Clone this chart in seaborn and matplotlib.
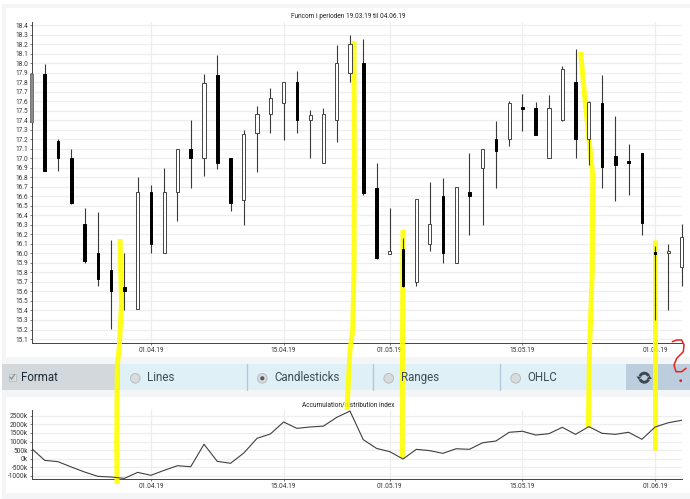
import numpy as np
import matplotlib
matplotlib.use("Agg")
import matplotlib.pyplot as plt
from matplotlib.patches import Rectangle, Circle, Arc, Polygon
import pandas as pd
import seaborn as sns

# candle values, one entry per trading day
low = [17.38, 16.87, 16.87, 16.52, 15.90, 15.66, 15.21, 15.40, 15.42, 16.00,
       16.00, 16.34, 16.69, 16.81, 16.89, 16.45, 16.30, 16.86, 17.26, 17.19,
       17.26, 17.00, 16.95, 17.17, 17.80, 16.61, 15.94, 16.00, 15.65, 15.66,
       16.02, 15.90, 15.90, 16.19, 16.30, 16.69, 17.13, 17.29, 17.24, 17.00,
       17.39, 17.00, 16.93, 16.69, 16.55, 16.61, 16.19, 15.30, 15.40, 15.66]
high = [17.90, 17.99, 17.20, 17.10, 16.48, 16.44, 16.14, 16.00, 16.80, 16.72,
        16.90, 17.10, 17.40, 17.89, 18.09, 17.00, 17.30, 17.55, 17.74, 17.80,
        17.92, 17.51, 17.53, 18.19, 18.29, 18.25, 16.95, 16.48, 16.16, 16.57,
        16.75, 16.79, 16.70, 17.05, 17.10, 17.39, 17.60, 17.67, 17.59, 17.66,
        17.97, 18.15, 17.60, 17.87, 17.44, 17.15, 17.05, 16.08, 16.10, 16.31]
body_low = [17.38, 16.87, 17.00, 16.53, 15.92, 15.73, 15.60, 15.60, 15.42, 16.10,
            16.00, 16.65, 17.00, 17.00, 16.95, 16.53, 16.56, 17.27, 17.46, 17.58,
            17.40, 17.40, 16.95, 17.40, 17.90, 16.63, 15.95, 15.99, 15.66, 15.70,
            16.10, 16.00, 15.90, 16.60, 16.90, 17.08, 17.20, 17.52, 17.24, 17.00,
            17.40, 17.20, 17.20, 16.91, 16.93, 16.95, 16.32, 15.99, 16.00, 15.86]
body_high = [17.89, 17.89, 17.18, 17.00, 16.31, 16.00, 15.83, 15.65, 16.65, 16.65,
             16.65, 17.10, 17.10, 17.79, 17.87, 17.00, 17.25, 17.47, 17.63, 17.80,
             17.80, 17.45, 17.47, 18.00, 18.20, 18.00, 16.69, 16.02, 16.05, 16.57,
             16.31, 16.60, 16.70, 16.64, 17.10, 17.20, 17.58, 17.54, 17.53, 17.53,
             17.94, 17.80, 17.59, 17.58, 17.02, 16.97, 17.05, 16.01, 16.03, 16.17]
falling = [0, 1, 1, 1, 1, 1, 1, 1, 0, 1,
           0, 0, 1, 0, 1, 1, 0, 0, 0, 0,
           1, 0, 0, 0, 0, 1, 1, 0, 1, 0,
           0, 1, 0, 1, 0, 1, 0, 1, 1, 0,
           0, 1, 0, 1, 1, 1, 1, 1, 0, 0]

# accumulation/distribution index, in thousands
ad_index = [600, -100, -175, -486, -780, -1030, -1070, -1150, -800, -970,
            -680, -410, -470, 840, -155, -270, 330, 1190, 1440, 2140,
            1770, 1850, 1900, 2410, 2780, 1110, 600, 410, -20, 545,
            470, 310, 580, 545, 930, 1030, 1540, 1600, 1380, 1460,
            1830, 1420, 1870, 1480, 1420, 1540, 1130, 1850, 2100, 2240]

date_ticks = [9, 19, 27, 37, 47]
date_labels = ["01.04.19", "15.04.19", "01.05.19", "15.05.19", "01.06.19"]
price_ticks = [round(15.1 + 0.1 * i, 1) for i in range(34)]
ad_ticks = [-1000, -500, 0, 500, 1000, 1500, 2000, 2500]
ad_labels = [f"{v}k" for v in ad_ticks]

main_title = "Funcom i perioden 19.03.19 til 04.06.19"
lower_title = "Accumulation/distribution index"
format_label = "Format"
chart_types = ["Lines", "Candlesticks", "Ranges", "OHLC"]

# hand drawn marks on top of the screenshot, in picture pixels
yellow_strokes = [
    [(120, 239), (121.5, 303), (119.3, 347), (117.3, 365), (116.7, 445), (117, 484)],
    [(354, 41), (354.3, 165), (354, 270), (352.7, 330), (350, 350), (347, 410)],
    [(403, 230), (402.7, 287), (402.5, 350), (402.3, 458)],
    [(580.7, 52), (585, 100), (592.7, 175), (592.3, 270), (589.5, 350), (588.3, 428)],
    [(655, 240), (655, 350), (655, 450)],
]
red_curve = [(672.3, 341.7), (676.7, 340), (681.7, 340), (684, 345), (683.3, 351.7), (676.7, 358.3),
             (674, 365), (676, 371.7), (681.7, 371.7), (686, 368.3)]

W, H = 690, 499
sns.set_style("white")
plt.rcParams["font.family"] = ["Roboto", "DejaVu Sans"]

fig = plt.figure(figsize=(W / 100, H / 100), dpi=100, facecolor="white")


def px_axes(left, top, right, bottom, z):
    a = fig.add_axes([left / W, 1 - bottom / H, (right - left) / W, (bottom - top) / H], zorder=z)
    a.patch.set_alpha(0)
    return a


def pixel_layer(z):
    a = fig.add_axes([0, 0, 1, 1], zorder=z)
    a.set_xlim(0, W)
    a.set_ylim(H, 0)
    a.axis("off")
    return a


# page furniture: panels and buttons
bg = pixel_layer(0)
bg.add_patch(Rectangle((2, 4), W, H, color="#f3f5f6", lw=0))
bg.add_patch(Rectangle((6, 8), W, 349, color="white", lw=0))
bg.add_patch(Rectangle((6, 397), W, 96, color="white", lw=0))
bg.add_patch(Rectangle((2, 364), 118, 26, color="#d3d8dc", lw=0))
bg.add_patch(Rectangle((120, 364), 506, 26, color="#dff0f6", lw=0))
bg.add_patch(Rectangle((626, 364), 64, 26, color="#bccddd", lw=0))
for x in [246.7, 372.7, 499.7]:
    bg.plot([x, x], [364, 390], color="#b2c8de", lw=1)

# highlighter sits over the grid but under the candles and button text
top = pixel_layer(2)
for stroke in yellow_strokes:
    xs, ys = zip(*stroke)
    top.plot(xs, ys, color="#ffff00", lw=3.6, alpha=0.9, solid_capstyle="butt", zorder=3)

top.add_patch(Rectangle((8.5, 373.5), 7, 7, fc="#dcdfe1", ec="#b8bcbf", lw=0.6, zorder=4))
top.plot([10, 11.7, 14.5], [377, 379.2, 374.5], color="#8f9497", lw=1, zorder=5)
top.text(20.5, 377.5, format_label, fontsize=8.3, va="center", color="#1d2a33", zorder=5)

for name, cx in zip(chart_types, [135.3, 262.3, 388.7, 515.7]):
    top.add_patch(Circle((cx, 378.3), 4.8, fc="#d9dcdd", ec="#b9bdbf", lw=0.7, zorder=4))
    if name == "Candlesticks":
        top.add_patch(Circle((cx, 378.3), 2.1, fc="#555b60", lw=0, zorder=5))
    top.text(cx + 12, 377.8, name, fontsize=8.3, va="center", color="#3d4b55", zorder=5)

# refresh icon
top.add_patch(Arc((644.3, 377.7), 9, 9, theta1=200, theta2=340, color="#3c4650", lw=2.1, zorder=5))
top.add_patch(Arc((644.3, 377.7), 9, 9, theta1=20, theta2=160, color="#3c4650", lw=2.1, zorder=5))
top.add_patch(Polygon([(647, 379), (652, 379), (649.5, 375.5)], color="#3c4650", lw=0, zorder=5))
top.add_patch(Polygon([(636.5, 376.5), (641.5, 376.5), (639, 380)], color="#3c4650", lw=0, zorder=5))

xs, ys = zip(*red_curve)
top.plot(xs, ys, color="#e8201f", lw=1.1, zorder=6)
top.add_patch(Circle((680.7, 380.7), 1.4, color="#e8201f", lw=0, zorder=6))

# candlestick chart: axes and grid below the highlighter, marks above it
ax = px_axes(31.5, 21.7, 681.7, 343.3, 1)
ax.set_xlim(0, 49)
ax.set_ylim(15.055, 18.435)
ax.set_yticks(price_ticks)
ax.set_yticklabels([f"{v:.1f}" for v in price_ticks])
ax.text(0.4868, 1.004, main_title, transform=ax.transAxes, fontsize=4.7, color="#222222", ha="center", va="bottom")

marks = px_axes(31.5, 21.7, 681.7, 343.3, 3)
marks.set_xlim(0, 49)
marks.set_ylim(15.055, 18.435)
marks.axis("off")
days = np.arange(len(low))
candles = pd.DataFrame({"day": days, "low": low, "high": high, "body_low": body_low,
                        "body_high": body_high, "falling": falling})
marks.vlines(candles["day"], candles["low"], candles["high"], color="#3a3a3a", lw=0.8, zorder=3, clip_on=False)
for is_falling, group in candles.groupby("falling"):
    face = "black" if is_falling else "white"
    marks.bar(group["day"], group["body_high"] - group["body_low"], bottom=group["body_low"],
              width=0.2 if is_falling else 0.24, facecolor=face,
              edgecolor="black" if is_falling else "#444444", linewidth=0.7, zorder=4, clip_on=False)
# first candle is washed out by the axis in the screenshot
first = candles.iloc[0]
marks.bar(first["day"], first["body_high"] - first["body_low"], bottom=first["body_low"], width=0.24,
          facecolor="#8a8a8a", edgecolor="#777777", linewidth=0.7, zorder=5, clip_on=False)

# accumulation/distribution chart
ax2 = px_axes(31.5, 410, 681.7, 479.3, 1)
ax2.set_xlim(0, 49)
ax2.set_ylim(-1204, 2841)
ax2.set_yticks(ad_ticks)
ax2.set_yticklabels(ad_labels)
ax2.text(0.4868, 1.072, lower_title, transform=ax2.transAxes, fontsize=4.7, color="#222222", ha="center", va="center")

marks2 = px_axes(31.5, 410, 681.7, 479.3, 3)
sns.lineplot(x=days, y=ad_index, ax=marks2, color="#3f3f3f", lw=0.8, zorder=3)
marks2.set_xlim(0, 49)
marks2.set_ylim(-1204, 2841)
marks2.axis("off")

for a in [ax, ax2]:
    a.set_xticks(date_ticks)
    a.set_xticklabels(date_labels)
    a.grid(True, color="#eeeeee", lw=0.9, zorder=0)
    a.set_axisbelow(True)
    a.tick_params(labelsize=4.7, length=1.5, width=0.5, pad=1, color="#444444", labelcolor="#333333",
                  bottom=True, left=True)
    a.tick_params(axis="x", pad=1)
    sns.despine(ax=a)
    a.spines["left"].set_color("#444444")
    a.spines["bottom"].set_color("#444444")
    a.spines["left"].set_linewidth(0.7)
    a.spines["bottom"].set_linewidth(0.7)

plt.savefig("out.png", dpi=100)
